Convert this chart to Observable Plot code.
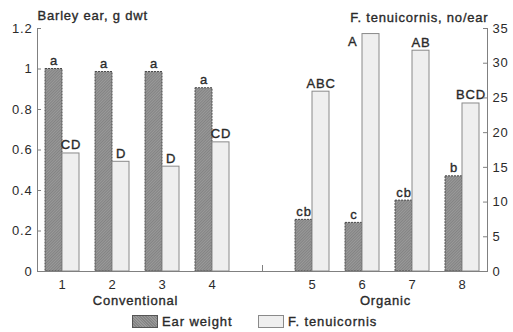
<!DOCTYPE html>
<html><head><meta charset="utf-8">
<script src="https://cdn.jsdelivr.net/npm/d3@7"></script>
<script src="https://cdn.jsdelivr.net/npm/@observablehq/plot@0.6"></script>
<style>
body{margin:0;background:#fff;font-family:"Liberation Sans",Arial,sans-serif;color:#2a2a2a;}
#chart svg{display:block;}
#legend{position:relative;width:513px;height:22px;font-size:13px;letter-spacing:0.9px;-webkit-text-stroke:0.35px #2a2a2a;}
.item{position:absolute;top:0;height:22px;display:flex;align-items:center;}
.sw{width:26px;height:13px;box-sizing:border-box;margin-right:4px;}
.sw.dark{background:repeating-linear-gradient(45deg,#848484 0 1px,#9a9a9a 1px 2px);border:1px solid #555;}
.sw.light{background:#efefef;border:1px solid #8a8a8a;}
</style></head><body>
<div id="chart"></div>
<div id="legend">
  <div class="item" style="left:132px"><div class="sw dark"></div><span>Ear weight</span></div>
  <div class="item" style="left:258px"><div class="sw light"></div><span>F. tenuicornis</span></div>
</div>
<script>
const treatments = ["1","2","3","4","5","6","7","8"];
const groupNames = ["Conventional","Organic"];
const earWeight = [1.0, 0.985, 0.985, 0.905, 0.255, 0.24, 0.35, 0.47];
const tenuicornis = [17.0, 15.8, 15.1, 18.6, 25.9, 34.2, 31.8, 24.2];
const earLetters = ["a","a","a","a","cb","c","cb","b"];
const tenLetters = ["CD","D","D","CD","ABC","A","AB","BCD"];
const leftTicks = [0,0.2,0.4,0.6,0.8,1,1.2];
const rightTicks = [0,5,10,15,20,25,30,35];
const leftTitle = "Barley ear, g dwt";
const rightTitle = "F. tenuicornis, no/ear";

const W = 513, H = 310;
const mL = 37, mR = 26, mT = 28, mB = 39;
const fw = W - mL - mR, fh = H - mT - mB;
const leftMax = 1.2, rightMax = 35, k = leftMax / rightMax;
const slots = [...treatments.slice(0,4), "", ...treatments.slice(4)];
const bw = fw / slots.length;

const data = treatments.map((t,i)=>({t, ear: earWeight[i], ten: tenuicornis[i], el: earLetters[i], tl: tenLetters[i]}));
const groups = groupNames.map((g,i)=>({g, anchor: treatments[i*4+1]}));

const ink = "#2a2a2a", axisC = "#808080";
const font = {fontSize: 13, fill: ink, stroke: ink, strokeWidth: 0.35};

const chart = Plot.plot({
  width: W, height: H,
  marginLeft: mL, marginRight: mR, marginTop: mT, marginBottom: mB,
  style: {fontFamily: '"Liberation Sans", Arial, sans-serif', fontSize: "13px", letterSpacing: "0.8px", background: "#fff", color: ink},
  x: {type: "band", domain: slots, padding: 0},
  y: {domain: [0, leftMax]},
  marks: [
    Plot.barY(data, {x: "t", y: "ear", fill: "url(#hatch)", stroke: "#4a4a4a", strokeDasharray: "2,1", insetLeft: 8, insetRight: 25}),
    Plot.barY(data, {x: "t", y: d => d.ten * k, fill: "#efefef", stroke: "#8a8a8a", insetLeft: 25, insetRight: 8}),
    Plot.text(data, {x: "t", y: "ear", text: "el", dx: -8.5, dy: -4, lineAnchor: "bottom", ...font}),
    Plot.text(data.filter(d => d.ten < 33), {x: "t", y: d => d.ten * k, text: "tl", dx: 8.5, dy: -4, lineAnchor: "bottom", ...font}),
    Plot.text(data.filter(d => d.ten >= 33), {x: "t", y: d => d.ten * k, text: "tl", dx: -5, dy: 8, textAnchor: "end", lineAnchor: "middle", ...font}),
    Plot.frame({anchor: "left", stroke: axisC}),
    Plot.frame({anchor: "right", stroke: axisC}),
    Plot.ruleY([0], {stroke: axisC}),
    Plot.ruleY(leftTicks, {stroke: axisC, insetRight: fw - 4}),
    Plot.ruleY(rightTicks.map(v => v * k), {stroke: axisC, insetLeft: fw - 4}),
    Plot.ruleX([""], {x: d => d, stroke: axisC, insetTop: fh - 6}),
    Plot.axisY(leftTicks, {anchor: "left", tickSize: 0, tickPadding: 5, label: null, tickFormat: d => String(d), ...font}),
    Plot.axisY(rightTicks.map(v => v * k), {anchor: "right", tickSize: 0, tickPadding: 5, label: null, tickFormat: d => String(Math.round(d / k)), ...font}),
    Plot.axisX(treatments, {tickSize: 0, tickPadding: 8, label: null, ...font}),
    Plot.text(groups, {x: "anchor", text: "g", frameAnchor: "bottom", dx: bw / 2 - 2, dy: 29, lineAnchor: "middle", ...font}),
    Plot.text([leftTitle], {frameAnchor: "top-left", text: d => d, textAnchor: "start", lineAnchor: "middle", dy: -13, letterSpacing: "1.2px", ...font}),
    Plot.text([rightTitle], {frameAnchor: "top-right", text: d => d, textAnchor: "end", lineAnchor: "middle", dx: 1, dy: -11, letterSpacing: "1.2px", ...font})
  ]
});

const ns = "http://www.w3.org/2000/svg";
const defs = document.createElementNS(ns, "defs");
defs.innerHTML = '<pattern id="hatch" width="2" height="2" patternUnits="userSpaceOnUse" patternTransform="rotate(45)"><rect width="2" height="2" fill="#9a9a9a"/><line x1="0.5" y1="0" x2="0.5" y2="2" stroke="#838383" stroke-width="1"/></pattern>';
chart.insertBefore(defs, chart.firstChild);
document.getElementById("chart").appendChild(chart);
</script>
</body></html>
